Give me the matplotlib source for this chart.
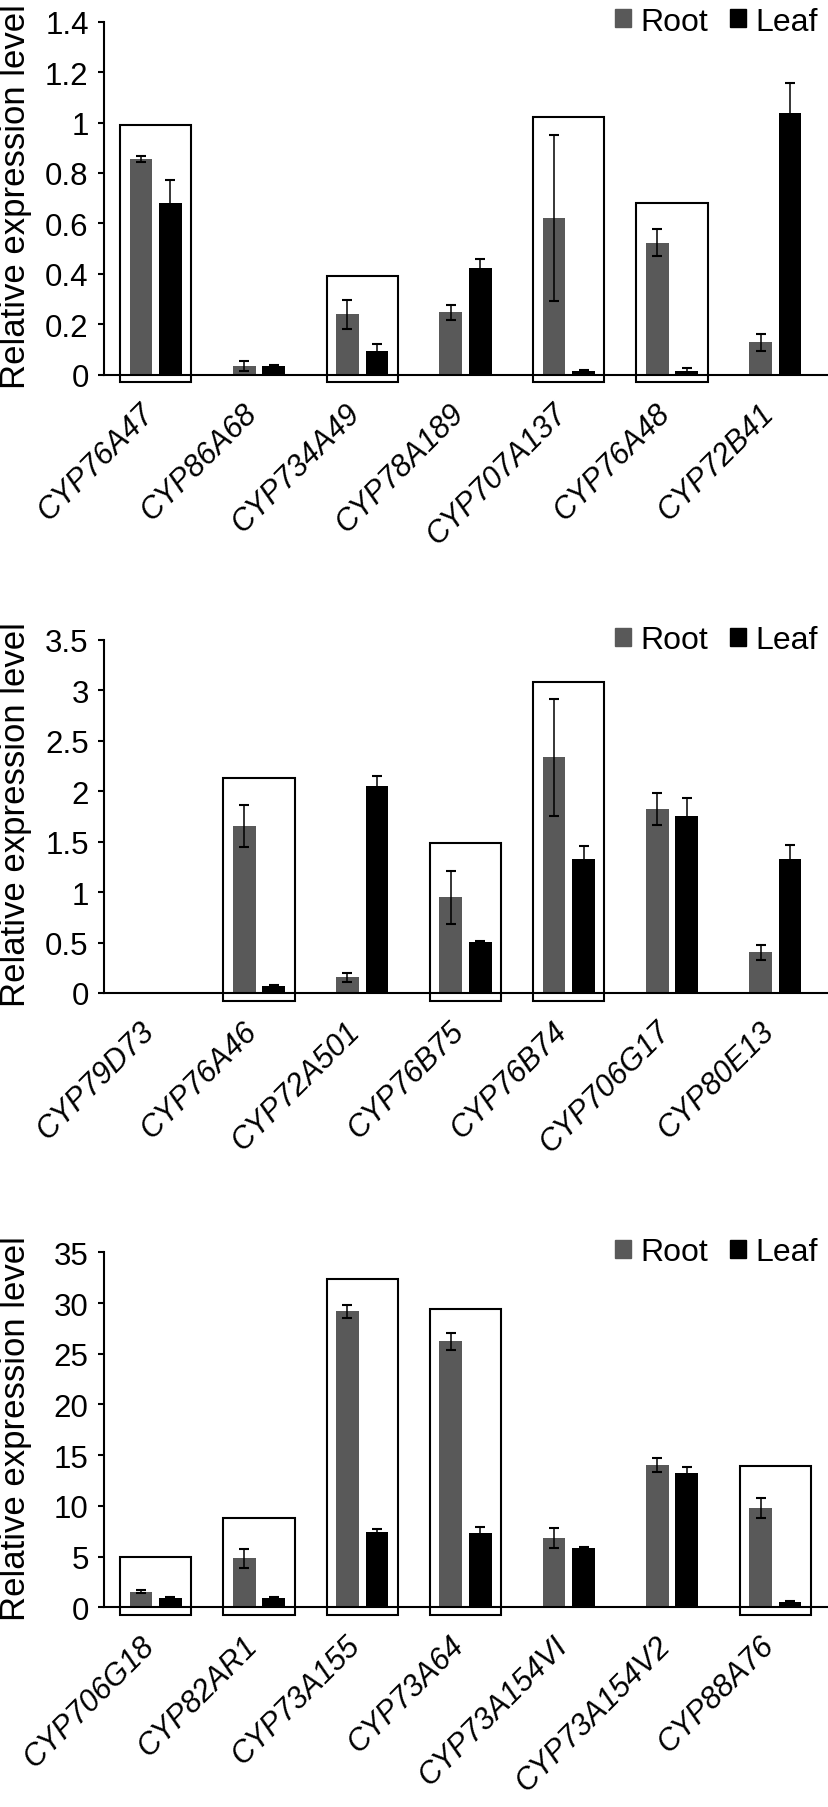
import numpy as np
import matplotlib
matplotlib.use('Agg')
import matplotlib.pyplot as plt
from matplotlib.patches import Patch, Rectangle

plt.rcParams['font.family'] = ['Liberation Sans', 'DejaVu Sans']

# panel 1
genes1 = ['CYP76A47', 'CYP86A68', 'CYP734A49', 'CYP78A189', 'CYP707A137', 'CYP76A48', 'CYP72B41']
root1 = [0.855, 0.036, 0.240, 0.247, 0.622, 0.523, 0.128]
root1_err = [0.013, 0.02, 0.058, 0.03, 0.33, 0.053, 0.033]
leaf1 = [0.682, 0.034, 0.095, 0.425, 0.015, 0.015, 1.037]
leaf1_err = [0.09, 0.005, 0.025, 0.032, 0.003, 0.011, 0.12]
box1 = {0: 0.99, 2: 0.39, 4: 1.024, 5: 0.68}

# panel 2
genes2 = ['CYP79D73', 'CYP76A46', 'CYP72A501', 'CYP76B75', 'CYP76B74', 'CYP706G17', 'CYP80E13']
root2 = [np.nan, 1.658, 0.155, 0.948, 2.336, 1.824, 0.403]
root2_err = [np.nan, 0.21, 0.043, 0.26, 0.58, 0.16, 0.073]
leaf2 = [np.nan, 0.066, 2.055, 0.502, 1.325, 1.757, 1.325]
leaf2_err = [np.nan, 0.01, 0.096, 0.01, 0.13, 0.175, 0.145]
box2 = {1: 2.13, 3: 1.487, 4: 3.08}

# panel 3
genes3 = ['CYP706G18', 'CYP82AR1', 'CYP73A155', 'CYP73A64', 'CYP73A154VI', 'CYP73A154V2', 'CYP88A76']
root3 = [1.54, 4.83, 29.19, 26.23, 6.8, 14.03, 9.76]
root3_err = [0.15, 0.95, 0.62, 0.82, 1.0, 0.66, 1.0]
leaf3 = [0.92, 0.9, 7.46, 7.3, 5.82, 13.21, 0.49]
leaf3_err = [0.1, 0.1, 0.3, 0.6, 0.1, 0.66, 0.1]
box3 = {0: 4.93, 1: 8.78, 2: 32.41, 3: 29.45, 6: 13.93}

ROOT_C = '#595959'
LEAF_C = '#000000'

W, H = 829, 1808
fig = plt.figure(figsize=(W / 100, H / 100), dpi=100)


def panel(top_px, bottom_px, genes, root, root_err, leaf, leaf_err, boxes, ymax, step, fmt):
    left = 104 / W
    right = 827 / W
    ax = fig.add_axes([left, 1 - bottom_px / H, right - left, (bottom_px - top_px) / H])
    x = np.arange(len(genes))
    ek = dict(ecolor='black', elinewidth=1.1, capsize=3.6, capthick=1.5)
    ax.bar(x - 0.143, root, 0.22, yerr=root_err, color=ROOT_C, error_kw=ek, zorder=2)
    ax.bar(x + 0.143, leaf, 0.22, yerr=leaf_err, color=LEAF_C, error_kw=ek, zorder=2)

    # boxes around the selected genes
    below = 7.5 / (bottom_px - top_px) * ymax
    for i, top in boxes.items():
        ax.add_patch(Rectangle((i - 0.345, -below), 0.69, top + below, fill=False,
                               edgecolor='black', linewidth=1.5, clip_on=False, zorder=3))

    ax.set_xlim(-0.5, len(genes) - 0.5)
    ax.set_ylim(0, ymax)
    ticks = np.arange(0, ymax + step / 2, step)
    ax.set_yticks(ticks)
    ax.set_yticklabels([fmt(t) for t in ticks], fontsize=22.5)
    ax.tick_params(axis='y', direction='out', length=4, width=1.5, pad=7)
    # labels end a little left of the group centre
    ax.set_xticks(x - 0.06)
    ax.set_xticklabels(genes, fontsize=22, style='italic', rotation=45,
                       ha='right', va='center', rotation_mode='anchor')
    ax.tick_params(axis='x', length=0, pad=24)
    for s in ['top', 'right']:
        ax.spines[s].set_visible(False)
    ax.spines['left'].set_linewidth(1.5)
    ax.spines['bottom'].set_linewidth(1.5)
    ax.set_ylabel('Relative expression level', fontsize=25)
    ax.yaxis.set_label_coords(-0.099, 0.507)

    handles = [Patch(color=ROOT_C, label='Root'), Patch(color=LEAF_C, label='Leaf')]
    ax.legend(handles=handles, loc='center right', bbox_to_anchor=(0.988, 1.0),
              ncol=2, frameon=False, fontsize=23, handlelength=0.5, handleheight=0.5,
              handletextpad=0.3, columnspacing=0.7, borderpad=0, borderaxespad=0)
    return ax


def fmt_g(v):
    return ('%.1f' % v).rstrip('0').rstrip('.')


panel(22.7, 375.7, genes1, root1, root1_err, leaf1, leaf1_err, box1, 1.4, 0.2, fmt_g)
panel(641, 994, genes2, root2, root2_err, leaf2, leaf2_err, box2, 3.5, 0.5, fmt_g)
panel(1253.3, 1608.3, genes3, root3, root3_err, leaf3, leaf3_err, box3, 35, 5, lambda v: '%d' % v)

fig.savefig('out.png', dpi=100)
